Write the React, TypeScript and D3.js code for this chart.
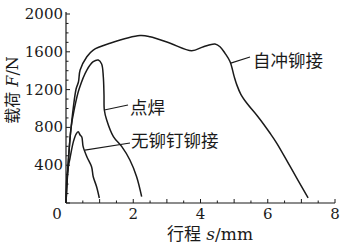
import React from "react";
import * as d3 from "d3";

const spr_s = [0, 0.06, 0.15, 0.3, 0.37, 0.42, 0.62, 0.81, 1.31, 2.2, 2.5, 3.1, 3.74, 4.09, 4.43, 4.58, 4.73, 4.88, 5.0, 5.08, 5.2, 5.38, 5.71, 6.07, 6.27, 6.67, 7.2];
const spr_F = [0, 402, 794, 1206, 1280, 1407, 1548, 1619, 1690, 1772, 1760, 1690, 1612, 1654, 1683, 1654, 1584, 1495, 1340, 1250, 1150, 1055, 913, 738, 632, 384, 53];

const spot_s = [0, 0.15, 0.25, 0.39, 0.62, 0.81, 0.96, 1.06, 1.11, 1.13, 1.14, 1.21, 1.41, 1.66, 1.9, 2.1, 2.25];
const spot_F = [0, 794, 1000, 1206, 1407, 1495, 1513, 1471, 1333, 1143, 984, 878, 702, 596, 455, 278, 67];

const nor_s = [0, 0.02, 0.07, 0.12, 0.22, 0.3, 0.36, 0.42, 0.47, 0.51, 0.62, 0.76, 0.81, 0.91, 0.99];
const nor_F = [0, 243, 384, 476, 649, 730, 754, 720, 698, 596, 490, 384, 278, 172, 53];

const xTickLabels = [2, 4, 6, 8];
const yTickLabels = [400, 800, 1200, 1600, 2000];

export default function App() {
  const x = d3.scaleLinear().domain([0, 8]).range([66, 335]);
  const y = d3.scaleLinear().domain([0, 2000]).range([203, 14]);
  const line = d3
    .line<[number, number]>()
    .x((d) => x(d[0]))
    .y((d) => y(d[1]))
    .curve(d3.curveCatmullRom.alpha(0.5));
  const zip = (a: number[], b: number[]) => a.map((v, i) => [v, b[i]] as [number, number]);

  const xMinor = d3.range(0, 8.01, 0.5);
  const yMinor = d3.range(0, 2001, 100);
  const stroke = "#1a1a1a";
  const serif = "'DejaVu Serif', 'Liberation Serif', serif";
  const cjk = "'Noto Sans CJK SC', sans-serif";

  return (
    <svg width={347} height={245} style={{ position: "absolute", left: 0, top: 0, background: "#fff" }}>
      <rect width={347} height={245} fill="#fff" />
      {/* axes */}
      <line x1={x(0)} x2={x(0)} y1={y(0)} y2={y(2000) - 2} stroke={stroke} strokeWidth={1.2} />
      <line x1={x(0)} x2={x(8)} y1={y(0)} y2={y(0)} stroke={stroke} strokeWidth={1.2} />
      {xMinor.map((t) => (
        <line key={"xt" + t} x1={x(t)} x2={x(t)} y1={y(0)} y2={y(0) - (t % 1 === 0 ? 4 : 2.5)} stroke={stroke} strokeWidth={1} />
      ))}
      {yMinor.map((t) => (
        <line key={"yt" + t} x1={x(0)} x2={x(0) + (t % 400 === 0 ? 4 : 2.5)} y1={y(t)} y2={y(t)} stroke={stroke} strokeWidth={1} />
      ))}
      {xTickLabels.map((t) => (
        <text key={"xl" + t} x={x(t)} y={219} textAnchor="middle" fontFamily={serif} fontSize={15} fill={stroke}>
          {t}
        </text>
      ))}
      <text x={57} y={219} textAnchor="middle" fontFamily={serif} fontSize={15} fill={stroke}>0</text>
      {yTickLabels.map((t) => (
        <text key={"yl" + t} x={63} y={y(t) + 5} textAnchor="end" fontFamily={serif} fontSize={15} fill={stroke}>
          {t}
        </text>
      ))}
      {/* axis titles */}
      <text x={210} y={240} textAnchor="middle" fontSize={17} fill={stroke}>
        <tspan fontFamily={cjk}>行程</tspan>
        <tspan fontFamily={serif} fontStyle="italic"> s</tspan>
        <tspan fontFamily={serif}>/mm</tspan>
      </text>
      <text transform="translate(18,90) rotate(-90)" textAnchor="middle" fontSize={16} fill={stroke}>
        <tspan fontFamily={cjk}>载荷</tspan>
        <tspan fontFamily={serif} fontStyle="italic"> F</tspan>
        <tspan fontFamily={serif}>/N</tspan>
      </text>
      {/* curves */}
      <path d={line(zip(spr_s, spr_F)) || ""} fill="none" stroke={stroke} strokeWidth={1.5} />
      <path d={line(zip(spot_s, spot_F)) || ""} fill="none" stroke={stroke} strokeWidth={1.5} />
      <path d={line(zip(nor_s, nor_F)) || ""} fill="none" stroke={stroke} strokeWidth={1.5} />
      {/* leaders and labels */}
      <line x1={x(4.9)} y1={y(1480)} x2={250} y2={57} stroke={stroke} strokeWidth={1.2} />
      <text x={253} y={67} fontFamily={cjk} fontSize={17.5} fill={stroke}>自冲铆接</text>
      <line x1={x(1.14)} y1={y(984)} x2={128} y2={105} stroke={stroke} strokeWidth={1.2} />
      <text x={130} y={114} fontFamily={cjk} fontSize={17.5} fill={stroke}>点焊</text>
      <line x1={x(0.56)} y1={y(560)} x2={130} y2={143} stroke={stroke} strokeWidth={1.2} />
      <text x={131} y={147} fontFamily={cjk} fontSize={17.5} fill={stroke}>无铆钉铆接</text>
    </svg>
  );
}
